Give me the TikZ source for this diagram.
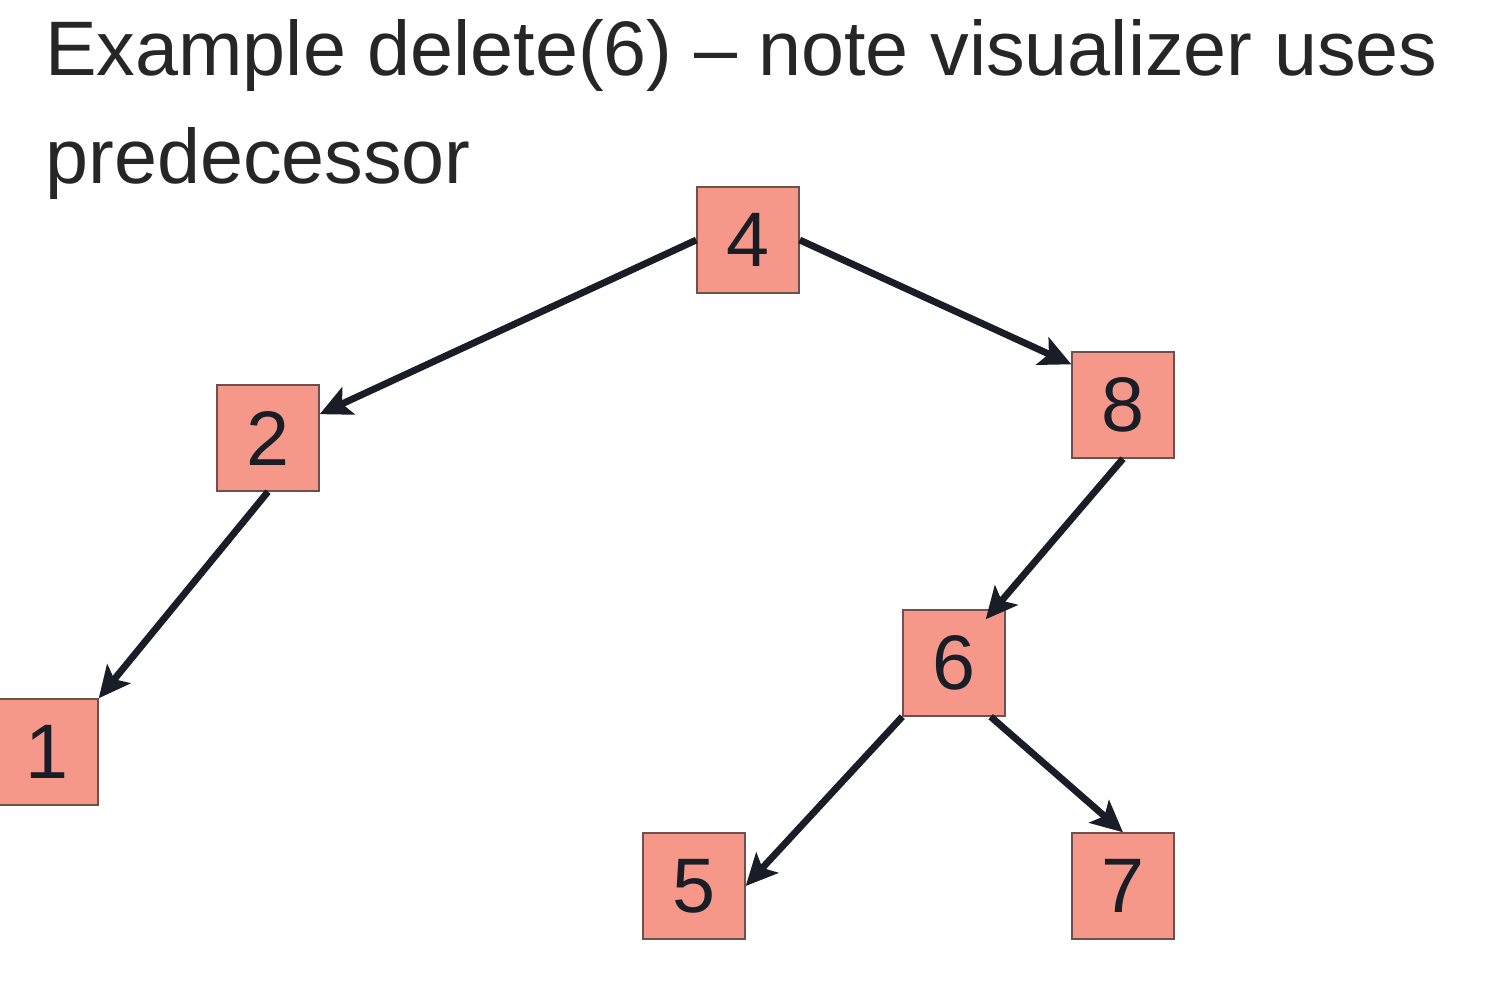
\documentclass[tikz,border=0pt]{standalone}
\usepackage{fontspec}
\setmainfont{Liberation Sans}
\usetikzlibrary{arrows.meta}
\definecolor{keyfill}{RGB}{245,152,138}
\definecolor{keyedge}{RGB}{110,80,78}
\definecolor{linkcol}{RGB}{24,29,38}

\begin{document}
\begin{tikzpicture}[x=0.02cm, y=-0.02cm,
    keynode/.style={rectangle, fill=keyfill, draw=keyedge, line width=0.8pt,
      minimum width=2.04cm, minimum height=2.12cm, inner sep=0pt,
      font=\fontsize{44}{50}\selectfont, text=linkcol},
    link/.style={draw=linkcol, line width=3.9pt,
      -{Stealth[length=18pt, width=17pt, inset=4pt]}}]
        \useasboundingbox (0,0) rectangle (1492,1002);
        % title
        \node[anchor=base west, inner sep=0pt, font=\fontsize{44}{50}\selectfont, text=black!85] (title) at (45,75) {Example delete(6) -- note visualizer uses};
        \node[anchor=base west, inner sep=0pt, font=\fontsize{44}{50}\selectfont, text=black!85] (title2) at (45,183) {predecessor};
        % keys
        \node[keynode] (n4) at (748,240) {4};
        \node[keynode] (n2) at (268,438) {2};
        \node[keynode] (n8) at (1123,405) {8};
        \node[keynode] (n1) at (47,752) {1};
        \node[keynode] (n6) at (954,663) {6};
        \node[keynode] (n5) at (694,886) {5};
        \node[keynode] (n7) at (1123,886) {7};
        % links
        \draw[link] (n4.west) -- (n2);
        \draw[link] (n4.east) -- ([yshift=-0.26cm]n8.north west);
        \draw[link] (n2.south) -- (n1.north east);
        \draw[link] (n8.south) -- ([xshift=-0.4cm, yshift=-0.2cm]n6.north east);
        \draw[link] (n6.south west) -- (n5.east);
        \draw[link] ([xshift=-0.3cm]n6.south east) -- (n7.north);
      \end{tikzpicture}
\end{document}
